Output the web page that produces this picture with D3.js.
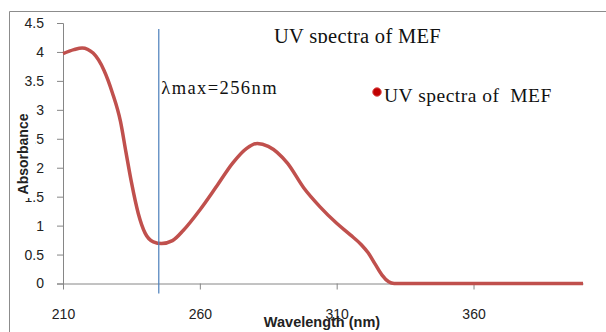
<!DOCTYPE html>
<html>
<head>
<meta charset="utf-8">
<script src="https://cdn.jsdelivr.net/npm/d3@7"></script>
<style>
  body { margin: 0; background: #fff; }
  svg { display: block; }
</style>
</head>
<body>
<div id="chart"></div>
<script>
// data
const wavelength = [210, 214, 217, 221, 225, 228, 231, 233, 235, 237.5, 240, 243, 246, 250, 254, 260, 266, 272, 277, 281, 285, 292, 298, 304, 310, 315, 319, 321.5, 324, 326.5, 329, 331, 340, 360, 380, 400];
const absorbance = [3.97, 4.04, 4.07, 3.98, 3.68, 3.30, 2.80, 2.27, 1.75, 1.21, 0.87, 0.72, 0.69, 0.74, 0.92, 1.27, 1.67, 2.08, 2.33, 2.42, 2.37, 2.08, 1.65, 1.32, 1.04, 0.84, 0.67, 0.53, 0.34, 0.15, 0.03, 0, 0, 0, 0, 0];
const xTicks = [210, 260, 310, 360];
const yTicks = [0, 0.5, 1, 1.5, 2, 2.5, 3, 3.5, 4, 4.5];
const markerWavelength = 245;
const chartTitle = 'UV spectra of MEF';
const seriesName = 'UV spectra of  MEF';
const markerLabel = '\u03bbmax=256nm';

const width = 606, height = 332;
const margin = { top: 23, right: 23, bottom: 48.5, left: 63 };
const innerW = width - margin.left - margin.right;
const innerH = height - margin.top - margin.bottom;

const svg = d3.select('#chart')
    .append('svg')
    .attr('width', width)
    .attr('height', height);

// outer chart border (only top and left show in the crop)
svg.append('path')
    .attr('d', `M9.5,${height} V11.5 H${width}`)
    .attr('fill', 'none')
    .attr('stroke', '#8c8c8c')
    .attr('stroke-width', 1);

const g = svg.append('g')
    .attr('transform', `translate(${margin.left},${margin.top})`);

const x = d3.scaleLinear().domain([210, 400]).range([0, innerW]);
const y = d3.scaleLinear().domain([0, 4.5]).range([innerH, 0]);

const axisColor = '#868686';
const sans = '"Liberation Sans", Arial, sans-serif';
const serif = '"Liberation Serif", "Times New Roman", serif';

// y axis
const yAxis = g.append('g')
    .call(d3.axisLeft(y).tickValues(yTicks).tickSize(6).tickPadding(13).tickFormat(d3.format('~g')));
yAxis.selectAll('path, line').attr('stroke', axisColor);
yAxis.selectAll('text')
    .attr('font-family', sans)
    .attr('font-size', 14)
    .attr('fill', '#222');

// x axis
const xAxis = g.append('g')
    .attr('transform', `translate(0,${innerH})`)
    .call(d3.axisBottom(x).tickValues(xTicks).tickSize(6).tickPadding(20).tickSizeOuter(0));
xAxis.selectAll('path, line').attr('stroke', axisColor);
xAxis.selectAll('text')
    .attr('font-family', sans)
    .attr('font-size', 14)
    .attr('fill', '#222');

// spectrum
const line = d3.line()
    .x((d, i) => x(wavelength[i]))
    .y(d => y(d))
    .curve(d3.curveMonotoneX);

g.append('path')
    .datum(absorbance)
    .attr('fill', 'none')
    .attr('stroke', '#c0504d')
    .attr('stroke-width', 3.5)
    .attr('stroke-linejoin', 'round')
    .attr('d', line);

// lambda max marker line
g.append('line')
    .attr('x1', x(markerWavelength)).attr('x2', x(markerWavelength))
    .attr('y1', 6).attr('y2', innerH + 10)
    .attr('stroke', '#4a7ebb')
    .attr('stroke-width', 1.2);

g.append('text')
    .attr('x', x(markerWavelength) + 2.5)
    .attr('y', 71)
    .attr('font-family', serif)
    .attr('font-size', 18.5)
    .attr('letter-spacing', 1.4)
    .attr('fill', '#111')
    .text(markerLabel);

// chart title, bottom clipped as in the picture
svg.append('clipPath').attr('id', 'titleClip')
    .append('rect').attr('x', 0).attr('y', 0).attr('width', width).attr('height', 43);

svg.append('text')
    .attr('clip-path', 'url(#titleClip)')
    .attr('x', 274)
    .attr('y', 43)
    .attr('font-family', serif)
    .attr('font-size', 20.5)
    .attr('letter-spacing', 0.3)
    .attr('fill', '#111')
    .text(chartTitle);

// legend
svg.append('circle')
    .attr('cx', 377).attr('cy', 92).attr('r', 4.3)
    .attr('fill', '#c00000')
    .attr('stroke', '#e06060')
    .attr('stroke-width', 1);

svg.append('text')
    .attr('x', 384)
    .attr('y', 102)
    .attr('font-family', serif)
    .attr('font-size', 19.5)
    .attr('letter-spacing', 0.5)
    .attr('fill', '#111')
    .attr('xml:space', 'preserve')
    .style('white-space', 'pre')
    .text(seriesName);

// axis titles
svg.append('rect')
    .attr('x', 15).attr('y', 110).attr('width', 20).attr('height', 88)
    .attr('fill', '#fff');

svg.append('text')
    .attr('transform', 'translate(28,154) rotate(-90)')
    .attr('text-anchor', 'middle')
    .attr('font-family', sans)
    .attr('font-weight', 'bold')
    .attr('font-size', 14)
    .attr('fill', '#222')
    .text('Absorbance');

svg.append('text')
    .attr('x', 322)
    .attr('y', 327)
    .attr('text-anchor', 'middle')
    .attr('font-family', sans)
    .attr('font-weight', 'bold')
    .attr('font-size', 14.5)
    .attr('fill', '#222')
    .text('Wavelength (nm)');
</script>
</body>
</html>
